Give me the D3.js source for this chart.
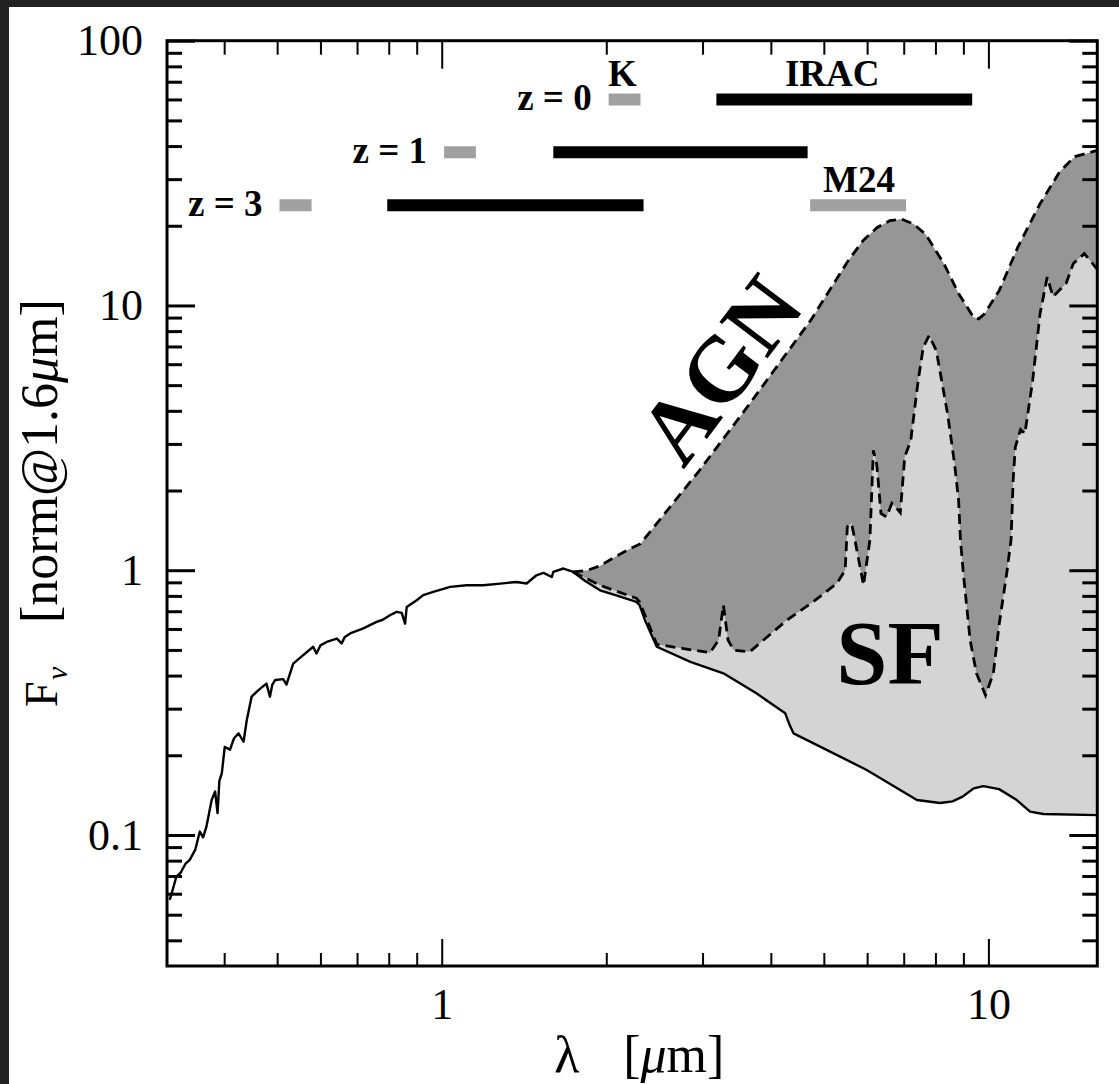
<!DOCTYPE html>
<html>
<head>
<meta charset="utf-8">
<script src="https://cdn.jsdelivr.net/npm/d3@7"></script>
<style>
  body { margin: 0; background: #222; }
  svg { display: block; }
</style>
</head>
<body>
<div id="chart"></div>
<script>
// stellar template (solid line), [lambda in micron, F_nu]
const stellar = [
  [0.318, 0.0569], [0.322, 0.062], [0.327, 0.0696], [0.333, 0.072], [0.340, 0.078],
  [0.346, 0.0805], [0.354, 0.0878], [0.361, 0.103], [0.366, 0.098], [0.371, 0.107],
  [0.3795, 0.1355], [0.385, 0.146], [0.389, 0.121], [0.392, 0.16], [0.396, 0.171],
  [0.401, 0.215], [0.41, 0.21], [0.417, 0.232], [0.425, 0.242], [0.434, 0.225],
  [0.44, 0.272], [0.449, 0.333], [0.459, 0.348], [0.468, 0.36], [0.478, 0.373],
  [0.485, 0.333], [0.49, 0.37], [0.496, 0.385], [0.513, 0.388], [0.52, 0.37],
  [0.535, 0.444], [0.558, 0.478], [0.582, 0.514], [0.59, 0.485], [0.6, 0.52],
  [0.616, 0.536], [0.643, 0.552], [0.656, 0.529], [0.665, 0.56], [0.68, 0.577],
  [0.719, 0.603], [0.76, 0.638], [0.78, 0.65], [0.804, 0.676], [0.827, 0.696],
  [0.845, 0.69], [0.857, 0.629], [0.863, 0.727], [0.9, 0.77], [0.925, 0.805],
  [0.965, 0.828], [1.036, 0.865], [1.111, 0.878], [1.19, 0.878], [1.28, 0.89],
  [1.37, 0.903], [1.43, 0.891], [1.49, 0.957], [1.535, 0.977], [1.59, 0.943],
  [1.6, 0.985], [1.67, 1.015], [1.74, 0.985], [1.83, 0.91], [1.948, 0.84],
  [2.1, 0.80], [2.27, 0.76], [2.30, 0.74], [2.36, 0.64], [2.474, 0.514],
  [2.85, 0.451], [3.275, 0.408], [3.77, 0.342], [4.25, 0.288], [4.33, 0.26],
  [4.4, 0.242], [4.85, 0.219], [5.99, 0.176], [7.4, 0.1355], [8.16, 0.132],
  [8.6, 0.134], [8.99, 0.14], [9.4, 0.15], [9.79, 0.153], [10.46, 0.149],
  [11.27, 0.1355], [11.92, 0.1225], [12.6, 0.12], [15.82, 0.1188]
];

// AGN upper envelope (dashed)
const agn = [
  [1.74, 0.985], [1.85, 1.0], [1.95, 1.04], [2.07, 1.12], [2.2, 1.2], [2.31, 1.26],
  [2.53, 1.59], [2.96, 2.38], [3.62, 4.13], [4.73, 8.78], [5.52, 14.6], [5.9, 17.6],
  [6.26, 19.7], [6.6, 20.9], [6.93, 21.2], [7.3, 20.3], [7.67, 18.6], [8.29, 14.4],
  [8.82, 11.1], [9.39, 9.03], [9.6, 8.9], [9.84, 9.3], [10.47, 11.4], [11.32, 16.6],
  [12.4, 24], [13.5, 32], [14.4, 36.5], [15.82, 38.5]
];

// star-forming envelope (dashed)
const sf = [
  [1.74, 0.985], [1.948, 0.877], [2.27, 0.784], [2.30, 0.76], [2.38, 0.64], [2.474, 0.525],
  [2.767, 0.506], [3.097, 0.488], [3.21, 0.545], [3.275, 0.738], [3.34, 0.545], [3.42, 0.499],
  [3.66, 0.492], [3.88, 0.545], [4.28, 0.648], [4.78, 0.76], [5.28, 0.891], [5.47, 1.0],
  [5.52, 1.46], [5.62, 1.5], [5.7, 1.3], [5.91, 0.878], [6.07, 1.3], [6.16, 2.84],
  [6.25, 2.5], [6.36, 1.64], [6.51, 1.59], [6.66, 1.79], [6.77, 1.73], [6.9, 1.65],
  [7.03, 2.68], [7.21, 3.09], [7.44, 5.21], [7.6, 6.95], [7.79, 7.7], [8.03, 6.76],
  [8.42, 3.9], [8.67, 2.53], [8.82, 1.84], [8.89, 1.3], [9.0, 0.97], [9.26, 0.545],
  [9.51, 0.408], [9.88, 0.337], [10.21, 0.408], [10.47, 0.63], [10.8, 0.97], [11.0, 1.3],
  [11.1, 2.2], [11.2, 2.92], [11.45, 3.4], [11.66, 3.28], [12.05, 5.21], [12.43, 9.3],
  [12.81, 12.8], [13.13, 10.8], [13.87, 12.1], [14.3, 14.4], [14.98, 15.7], [15.82, 13.7]
];

// filter bands
const barKind = ["K", "IRAC", "K", "IRAC", "K", "IRAC", "M24"];
const barLo = [2.02, 3.18, 1.01, 1.60, 0.505, 0.795, 4.72];
const barHi = [2.31, 9.34, 1.155, 4.67, 0.578, 2.34, 7.07];
const barLevel = [60, 60, 37.9, 37.9, 23.9, 23.9, 23.9];

const zText = ["z = 0", "z = 1", "z = 3"];
const zAtX = [2.02, 1.01, 0.505];
const zAtY = [60, 37.9, 23.9];

const bandText = ["K", "IRAC", "M24"];
const bandTextX = [2.14, 5.18, 5.8];
const bandTextY = [60, 60, 23.9];

const xMajor = [1, 10];
const xMinor = [0.4, 0.5, 0.6, 0.7, 0.8, 0.9, 2, 3, 4, 5, 6, 7, 8, 9];
const yMajor = [0.1, 1, 10, 100];
const yMinor = [0.04, 0.05, 0.06, 0.07, 0.08, 0.09, 0.2, 0.3, 0.4, 0.5, 0.6, 0.7, 0.8, 0.9,
                2, 3, 4, 5, 6, 7, 8, 9, 20, 30, 40, 50, 60, 70, 80, 90];

const W = 1119, H = 1084;
const margin = { top: 40.7, left: 167, right: 21.7, bottom: 118 };
const width = W - margin.left - margin.right;
const height = H - margin.top - margin.bottom;

const svg = d3.select("#chart").append("svg").attr("width", W).attr("height", H);
svg.append("rect").attr("width", W).attr("height", H).attr("fill", "#222");
svg.append("rect").attr("x", 9).attr("y", 7).attr("width", W - 9).attr("height", H - 7).attr("fill", "#fff");

const g = svg.append("g").attr("transform", `translate(${margin.left},${margin.top})`);

const x = d3.scaleLog().domain([0.3144, 15.82]).range([0, width]);
const y = d3.scaleLog().domain([0.032, 100]).range([height, 0]);

g.append("clipPath").attr("id", "plotclip")
  .append("rect").attr("width", width).attr("height", height);

const plot = g.append("g").attr("clip-path", "url(#plotclip)");
const line = d3.line().x(d => x(d[0])).y(d => y(d[1]));

const tail = stellar.filter(d => d[0] >= 1.74).reverse();

plot.append("path").attr("d", line(agn.concat(tail)) + "Z").attr("fill", "#969696");
plot.append("path").attr("d", line(sf.concat(tail)) + "Z").attr("fill", "#d4d4d4");

plot.append("path").attr("d", line(stellar))
  .attr("fill", "none").attr("stroke", "#000").attr("stroke-width", 2.4)
  .attr("stroke-linejoin", "round");
plot.append("path").attr("d", line(sf))
  .attr("fill", "none").attr("stroke", "#000").attr("stroke-width", 2.8)
  .attr("stroke-dasharray", "10,6");
plot.append("path").attr("d", line(agn))
  .attr("fill", "none").attr("stroke", "#000").attr("stroke-width", 2.8)
  .attr("stroke-dasharray", "10,6");

// band bars
plot.selectAll(".band")
  .data(barKind)
  .join("line")
  .attr("class", "band")
  .attr("x1", (d, i) => x(barLo[i]))
  .attr("x2", (d, i) => x(barHi[i]))
  .attr("y1", (d, i) => y(barLevel[i]))
  .attr("y2", (d, i) => y(barLevel[i]))
  .attr("stroke", d => d === "IRAC" ? "#000" : "#a0a0a0")
  .attr("stroke-width", 12);

const serif = "'Liberation Serif', 'Times New Roman', serif";

g.selectAll(".zlab")
  .data(zText)
  .join("text")
  .attr("class", "zlab")
  .attr("x", (d, i) => x(zAtX[i]) - 17)
  .attr("y", (d, i) => y(zAtY[i]) + 11)
  .attr("text-anchor", "end")
  .attr("font-family", serif).attr("font-weight", "bold").attr("font-size", 37)
  .text(d => d);

g.selectAll(".blab")
  .data(bandText)
  .join("text")
  .attr("class", "blab")
  .attr("x", (d, i) => x(bandTextX[i]))
  .attr("y", (d, i) => y(bandTextY[i]) - 13)
  .attr("text-anchor", "middle")
  .attr("font-family", serif).attr("font-weight", "bold").attr("font-size", 37)
  .text(d => d);

g.append("text")
  .attr("transform", `translate(${x(3.24)},${y(5.7)}) rotate(-53)`)
  .attr("text-anchor", "middle").attr("dy", "0.33em")
  .attr("font-family", serif).attr("font-weight", "bold").attr("font-size", 92)
  .text("AGN");

g.append("text")
  .attr("x", x(5.27)).attr("y", y(0.371))
  .attr("font-family", serif).attr("font-weight", "bold").attr("font-size", 92)
  .text("SF");

// axes, ticks pointing inward
function styleAxis(sel, w) {
  sel.select(".domain").remove();
  sel.selectAll(".tick line").attr("stroke", "#000").attr("stroke-width", w);
  sel.selectAll(".tick text").attr("font-family", serif).attr("font-size", 44).attr("fill", "#000");
}

g.append("g").attr("transform", `translate(0,${height})`)
  .call(d3.axisBottom(x).tickValues(xMajor).tickSize(-27).tickPadding(22).tickFormat(d => String(d)))
  .call(styleAxis, 2);
g.append("g").attr("transform", `translate(0,${height})`)
  .call(d3.axisBottom(x).tickValues(xMinor).tickSize(-13).tickFormat(""))
  .call(styleAxis, 2);
g.append("g")
  .call(d3.axisTop(x).tickValues(xMajor).tickSize(-28).tickFormat(""))
  .call(styleAxis, 2);
g.append("g")
  .call(d3.axisTop(x).tickValues(xMinor).tickSize(-14).tickFormat(""))
  .call(styleAxis, 2);

g.append("g")
  .call(d3.axisLeft(y).tickValues(yMajor).tickSize(-28).tickPadding(24).tickFormat(d => String(d)))
  .call(styleAxis, 3);
g.append("g")
  .call(d3.axisLeft(y).tickValues(yMinor).tickSize(-15).tickFormat(""))
  .call(styleAxis, 3);
g.append("g").attr("transform", `translate(${width},0)`)
  .call(d3.axisRight(y).tickValues(yMajor).tickSize(-28).tickFormat(""))
  .call(styleAxis, 3);
g.append("g").attr("transform", `translate(${width},0)`)
  .call(d3.axisRight(y).tickValues(yMinor).tickSize(-15).tickFormat(""))
  .call(styleAxis, 3);

g.append("rect")
  .attr("width", width).attr("height", height)
  .attr("fill", "none").attr("stroke", "#000").attr("stroke-width", 3);

// axis titles
const cx = margin.left + width / 2;
const xt = svg.append("text").attr("y", 1072)
  .attr("font-family", serif).attr("font-size", 52);
xt.append("tspan").attr("x", cx - 78).text("λ");
xt.append("tspan").attr("x", cx - 9).text("[");
xt.append("tspan").attr("font-style", "italic").text("μ");
xt.append("tspan").text("m]");

const yt = svg.append("text")
  .attr("transform", "translate(57,707) rotate(-90)")
  .attr("font-family", serif).attr("font-size", 46);
yt.append("tspan").attr("x", 0).text("F");
yt.append("tspan").attr("x", 27).attr("dy", 10).attr("font-size", 30).attr("font-style", "italic").text("ν");
yt.append("tspan").attr("x", 84).attr("dy", -10).attr("font-size", 52).text("[norm@1.6");
yt.append("tspan").attr("font-size", 52).attr("font-style", "italic").text("μ");
yt.append("tspan").attr("font-size", 52).text("m]");
</script>
</body>
</html>
